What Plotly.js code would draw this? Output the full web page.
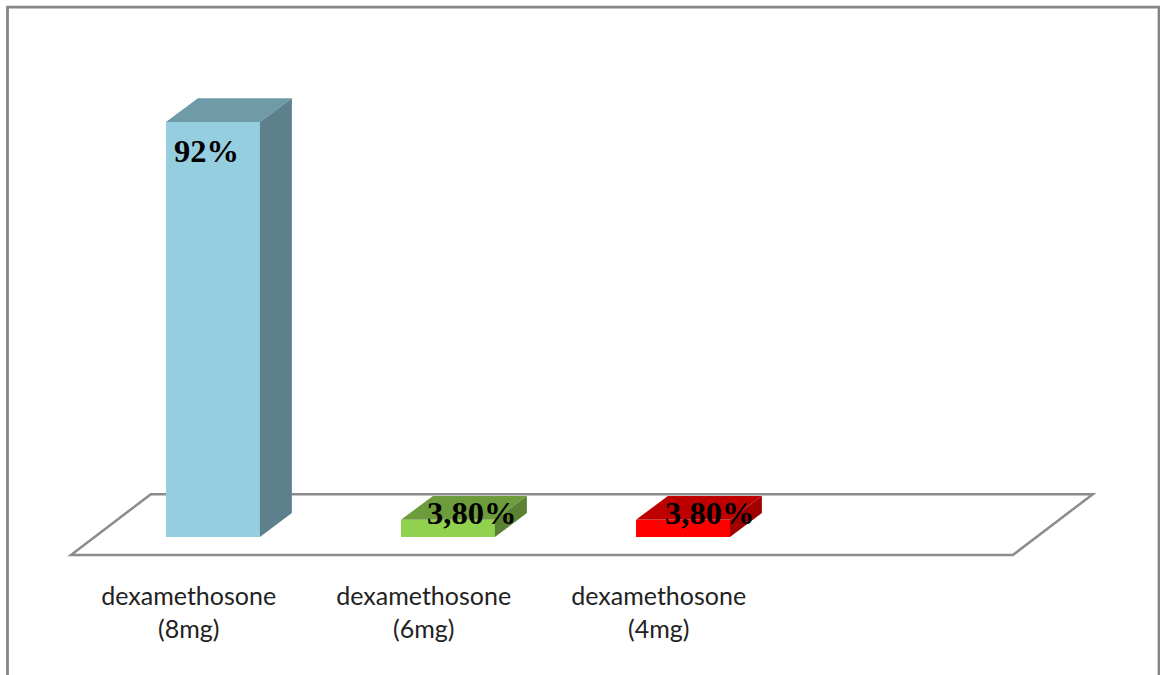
<!DOCTYPE html>
<html>
<head>
<meta charset="utf-8">
<script src="https://cdn.plot.ly/plotly-3.0.1.min.js"></script>
<style>html,body{margin:0;padding:0;background:#fff;overflow:hidden}</style>
</head>
<body>
<div id="chart" style="width:1160px;height:675px"></div>
<script>
// Dose groups and their response rates (percent)
const categories = ["dexamethosone", "dexamethosone", "dexamethosone"];
const doses = ["(8mg)", "(6mg)", "(4mg)"];
const values = [92, 3.8, 3.8];
const valueLabels = ["92%", "3,80%", "3,80%"];

// Face colours of each box: front, top, side
const frontColors = ["#95CEDF", "#92D050", "#FF0000"];
const topColors = ["#6F9BA8", "#6D9C3C", "#BF0000"];
const sideColors = ["#5D808C", "#5B8232", "#A00000"];

// Pixel nudges of the value labels away from the bar centre and top
const labelShiftX = [-7, 23, 26];
const labelShiftY = [29, -7, -7];

// Box geometry in axis units
const barWidth = 0.4;
const depthX = 0.136;
const depthY = 5.3;

// Floor slab in axis units
const floorLeft = -0.604, floorRight = 3.404;
const floorFront = -4, floorBack = 9.5, floorDepthX = 0.34;

// Category labels sit slightly left of the bars they name
const tickOffset = -0.103;

const indices = categories.map((_, i) => i);

function faceTrace(xs, ys, color) {
  return {
    type: "scatter", mode: "lines", x: xs, y: ys, fill: "toself",
    fillcolor: color, line: {width: 0, color: color},
    hoverinfo: "skip", showlegend: false
  };
}

const traces = [];
indices.forEach(i => {
  const v = values[i], l = i - barWidth / 2, r = i + barWidth / 2;
  traces.push(faceTrace([l, l + depthX, r + depthX, r, l],
                        [v, v + depthY, v + depthY, v, v], topColors[i]));
  traces.push(faceTrace([r, r + depthX, r + depthX, r, r],
                        [0, depthY, v + depthY, v, 0], sideColors[i]));
});
traces.unshift({
  type: "bar", x: indices, y: values, width: barWidth,
  marker: {color: frontColors, line: {width: 0}},
  hoverinfo: "y", showlegend: false
});

// Open-bottomed outer frame, in plot-relative units
const W = 1160, H = 570;
const px = x => x / W, py = y => (H - y) / H;
const framePath = `M ${px(7.5)},${py(675)} L ${px(7.5)},${py(7.2)} L ${px(1159)},${py(7.2)} L ${px(1159)},${py(675)}`;

const floorPath = `M ${floorLeft},${floorFront} L ${floorRight},${floorFront} ` +
  `L ${floorRight + floorDepthX},${floorBack} L ${floorLeft + floorDepthX},${floorBack} Z`;

const layout = {
  width: 1160, height: 675,
  margin: {l: 0, r: 0, t: 0, b: 105, pad: 0},
  paper_bgcolor: "#fff", plot_bgcolor: "#fff",
  showlegend: false, bargap: 0,
  xaxis: {
    type: "linear", range: [-0.906, 4.03], fixedrange: true,
    tickmode: "array", tickvals: indices.map(i => i + tickOffset),
    ticktext: indices.map(i => `${categories[i]}<br>${doses[i]}`),
    tickfont: {family: "Lato, sans-serif", size: 25, color: "#222"},
    ticks: "outside", ticklen: 4, tickcolor: "rgba(0,0,0,0)",
    showgrid: false, zeroline: false, showline: false, tickangle: 0
  },
  yaxis: {
    range: [-7.317, 119.07], fixedrange: true, visible: false,
    showgrid: false, zeroline: false
  },
  shapes: [
    {type: "path", xref: "x", yref: "y", path: floorPath, layer: "below",
     fillcolor: "#fff", line: {color: "#8C8C8C", width: 2.5}},
    {type: "path", xref: "paper", yref: "paper", path: framePath, layer: "above",
     line: {color: "#868686", width: 2.8}}
  ],
  annotations: indices.map(i => ({
    x: i, y: values[i], xref: "x", yref: "y",
    text: `<b>${valueLabels[i]}</b>`, showarrow: false,
    xanchor: "center", yanchor: "middle",
    xshift: labelShiftX[i] + 1, yshift: -labelShiftY[i],
    font: {family: "Liberation Serif, serif", size: 32.5, color: "#000"}
  }))
};

Plotly.newPlot("chart", traces, layout, {displayModeBar: false, responsive: false});
</script>
</body>
</html>
